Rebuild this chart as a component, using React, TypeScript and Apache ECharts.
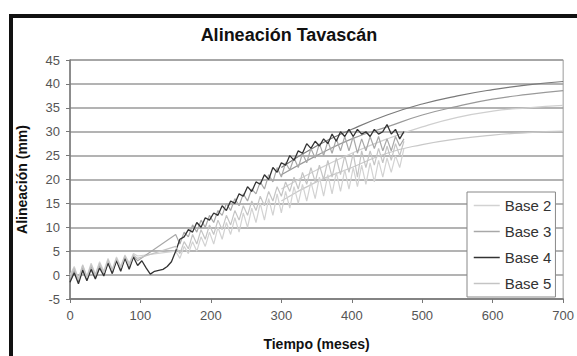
import React, { useEffect, useRef } from "react";
import * as echarts from "echarts";

const titleText = "Alineación Tavascán";
const xName = "Tiempo (meses)";
const yName = "Alineación (mm)";
const seriesNames = ["Base 2", "Base 3", "Base 4", "Base 5"];

const months = [
  0, 6, 12, 18, 24, 30, 36, 42, 48, 54,
  60, 66, 72, 78, 84, 90, 96, 102, 108, 114,
  120, 126, 132, 138, 144, 150, 156, 162, 168, 174,
  180, 186, 192, 198, 204, 210, 216, 222, 228, 234,
  240, 246, 252, 258, 264, 270, 276, 282, 288, 294,
  300, 306, 312, 318, 324, 330, 336, 342, 348, 354,
  360, 366, 372, 378, 384, 390, 396, 402, 408, 414,
  420, 426, 432, 438, 444, 450, 456, 462, 468, 474,
];

const base2 = [
  0.0, 1.8, -0.8, 2.2, -0.3, 2.5, 0.2, 2.8, 0.8, 3.5,
  1.2, 3.8, 1.8, 4.2, 2.5, 4.5, 4.0, null, null, null,
  null, null, null, null, null, 5.0, 3.5, 6.0, 4.5, 7.0,
  5.0, 8.0, 6.0, 9.0, 6.5, 10.0, 7.5, 11.0, 8.5, 12.0,
  9.0, 13.0, 10.0, 14.0, 11.0, 15.0, 11.5, 16.0, 12.5, 17.0,
  13.0, 17.5, 14.0, 18.5, 15.0, 19.0, 15.5, 19.5, 16.0, 20.5,
  16.5, 21.0, 17.0, 21.5, 17.5, 22.0, 18.0, 22.5, 18.5, 23.0,
  19.0, 23.5, 19.5, 24.0, 20.5, 24.5, 21.5, 25.0, 22.5, 26.5,
];

const base3 = [
  -1.0, 1.0, -1.5, 1.5, -1.0, 1.8, -0.5, 2.0, 0.0, 2.8,
  0.5, 3.2, 1.0, 3.8, 1.5, 4.0, 3.0, null, null, null,
  null, null, null, null, null, 8.5, 6.5, 9.0, 8.0, 10.5,
  9.0, 11.5, 10.0, 12.5, 11.0, 13.5, 12.5, 15.0, 13.5, 16.0,
  14.5, 17.0, 15.5, 18.0, 17.0, 19.5, 18.0, 21.0, 19.5, 22.5,
  20.5, 23.5, 22.0, 24.5, 22.5, 25.5, 23.5, 26.5, 24.5, 27.5,
  25.0, 28.0, 25.5, 28.5, 26.0, 29.0, 26.0, 29.0, 25.5, 28.5,
  26.0, 29.0, 26.5, 29.0, 26.0, 28.5, 26.0, 29.0, 27.0, 28.5,
];

const base4 = [
  -1.5, 0.5, -1.8, 1.0, -1.2, 1.2, -0.8, 1.5, -0.2, 2.5,
  0.3, 3.0, 0.8, 3.5, 1.2, 3.8, 2.0, 3.0, 1.5, 0.2,
  0.8, 1.0, 1.2, 1.8, 2.8, 5.0, 7.5, 8.0, 9.5, 9.0,
  11.0, 10.0, 12.0, 11.5, 13.0, 12.5, 14.5, 13.5, 15.5, 15.0,
  17.0, 16.5, 18.5, 17.5, 19.5, 19.0, 21.0, 20.0, 22.5, 21.5,
  23.5, 23.0, 25.0, 24.0, 26.0, 25.5, 27.5, 26.5, 28.0, 27.0,
  28.5, 27.5, 29.5, 28.0, 30.0, 29.0, 30.5, 29.0, 30.5, 29.5,
  30.0, 29.0, 30.5, 29.5, 30.0, 31.5, 29.5, 30.5, 28.5, 30.0,
];

const base5 = [
  -0.5, 1.5, -1.0, 2.0, -0.5, 2.2, 0.0, 2.5, 0.5, 3.2,
  1.0, 3.5, 1.5, 4.0, 2.0, 4.2, 3.5, null, null, null,
  null, null, null, null, null, 6.0, 4.5, 7.0, 5.5, 8.5,
  6.5, 9.5, 7.5, 10.5, 8.5, 11.5, 9.5, 12.5, 10.5, 13.5,
  11.5, 14.5, 12.5, 15.5, 13.5, 16.5, 14.5, 17.5, 15.5, 18.5,
  16.5, 19.5, 17.5, 20.5, 18.0, 21.5, 19.0, 22.5, 19.5, 23.0,
  20.0, 24.0, 20.5, 24.5, 21.0, 25.0, 21.5, 25.5, 20.5, 26.0,
  22.5, 26.0, 23.0, 26.5, 23.5, 27.0, 24.0, 27.5, 25.0, 28.0,
];

const trendMonths = [300, 350, 400, 450, 500, 550, 600, 650, 700];
const trend2 = [15.5, 19.5, 22.5, 25.5, 27.3, 28.5, 29.3, 29.8, 30.1];
const trend3 = [22.5, 27.0, 30.5, 33.5, 35.8, 37.5, 38.8, 39.8, 40.5];
const trend4 = [21.0, 25.0, 28.5, 31.0, 33.5, 35.3, 36.8, 37.8, 38.6];
const trend5 = [18.0, 22.0, 25.5, 28.5, 31.0, 33.0, 34.3, 35.0, 35.5];

const colors = ["#d2d2d2", "#a8a8a8", "#333333", "#c4c4c4"];
const trendColors = ["#c8c8c8", "#7a7a7a", "#9a9a9a", "#cfcfcf"];

const pair = (xs: number[], ys: (number | null)[]) => xs.map((x, i) => [x, ys[i]]);

export default function App() {
  const ref = useRef<HTMLDivElement>(null);
  useEffect(() => {
    if (!ref.current) return;
    const chart = echarts.init(ref.current, undefined, { renderer: "svg" });
    const dataSets = [base2, base3, base4, base5];
    const trends = [trend2, trend3, trend4, trend5];
    const font = "Liberation Sans, Arial, sans-serif";
    const series: any[] = [];
    trends.forEach((t, i) => {
      series.push({
        name: "Tendencia " + seriesNames[i],
        type: "line",
        data: pair(trendMonths, t),
        smooth: true,
        showSymbol: false,
        symbol: "none",
        lineStyle: { color: trendColors[i], width: 1.2 },
        z: 1,
      });
    });
    const order = [0, 3, 1, 2];
    order.forEach((i) => {
      series.push({
        name: seriesNames[i],
        type: "line",
        data: pair(months, dataSets[i]),
        connectNulls: true,
        showSymbol: false,
        symbol: "none",
        color: colors[i],
        lineStyle: { color: colors[i], width: i === 2 ? 1.3 : 1.2 },
        z: 2 + i,
      });
    });
    chart.setOption({
      animation: false,
      backgroundColor: "#ffffff",
      textStyle: { fontFamily: font },
      title: {
        text: titleText,
        left: 284,
        textAlign: "center",
        top: 21,
        textStyle: { fontSize: 18, fontWeight: "bold", color: "#111", fontFamily: font },
      },
      grid: {
        left: 70,
        right: 7,
        top: 60,
        bottom: 51,
        show: true,
        backgroundColor: "#ffffff",
        borderColor: "#9a9a9a",
        borderWidth: 1,
      },
      legend: {
        data: seriesNames,
        orient: "vertical",
        left: 467,
        top: 192,
        backgroundColor: "#ffffff",
        borderColor: "#888888",
        borderWidth: 1,
        padding: [6, 4, 6, 6],
        itemWidth: 26,
        itemHeight: 14,
        itemGap: 11,
        itemStyle: { opacity: 0 },
        lineStyle: { width: 1.5 },
        textStyle: { fontSize: 15, color: "#333", fontFamily: font, lineHeight: 14 },
      },
      xAxis: {
        type: "value",
        min: 0,
        max: 700,
        interval: 100,
        name: xName,
        nameLocation: "middle",
        nameGap: 38,
        nameTextStyle: { fontSize: 14, fontWeight: "bold", color: "#111", fontFamily: font },
        axisLine: { show: true, onZero: false, lineStyle: { color: "#777", width: 1.5 } },
        axisTick: { show: true, length: 4, lineStyle: { color: "#777" } },
        axisLabel: { fontSize: 13, color: "#555", margin: 10, fontFamily: font },
        splitLine: { show: false },
      },
      yAxis: {
        type: "value",
        min: -5,
        max: 45,
        interval: 5,
        name: yName,
        nameLocation: "middle",
        nameGap: 41,
        nameRotate: 90,
        nameTextStyle: { fontSize: 14, fontWeight: "bold", color: "#111", fontFamily: font },
        axisLine: { show: true, lineStyle: { color: "#777", width: 1.5 } },
        axisTick: { show: true, length: 4, lineStyle: { color: "#777" } },
        axisLabel: { fontSize: 13, color: "#555", margin: 10, fontFamily: font },
        splitLine: { show: true, lineStyle: { color: "#9a9a9a", width: 1.5 } },
      },
      graphic: [
        {
          type: "rect",
          shape: { x: 11, y: 16, width: 600, height: 400 },
          style: { fill: "none", stroke: "#111", lineWidth: 4 },
          silent: true,
          z: 100,
        },
      ],
      series,
    });
    return () => chart.dispose();
  }, []);
  return <div ref={ref} style={{ width: 577, height: 356, position: "absolute", left: 0, top: 0 }} />;
}
